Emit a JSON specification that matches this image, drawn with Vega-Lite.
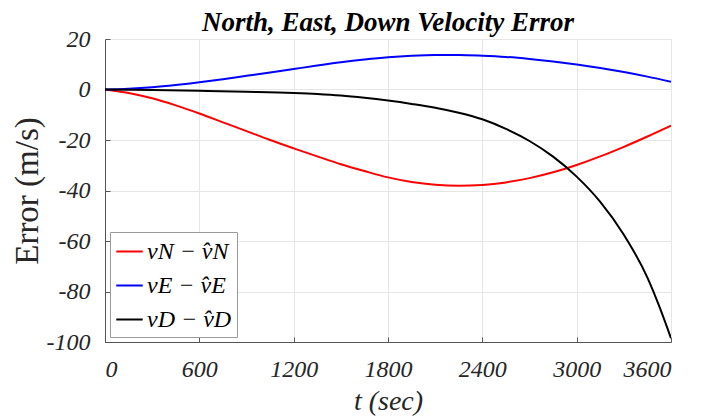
{
  "$schema": "https://vega.github.io/schema/vega-lite/v6.json",
  "width": 566,
  "height": 303,
  "autosize": {"type": "none"},
  "padding": {"left": 105, "top": 39, "right": 31, "bottom": 76},
  "background": "white",
  "title": {
    "text": "North, East, Down Velocity Error",
    "font": "Liberation Serif",
    "fontSize": 27,
    "fontWeight": "bold",
    "fontStyle": "italic",
    "color": "#000000",
    "anchor": "middle",
    "offset": -10
  },
  "data": {
    "values": [
      {"t": 0, "e": 0, "s": "vN − v̂N"},
      {"t": 150, "e": -1.4, "s": "vN − v̂N"},
      {"t": 300, "e": -3.5, "s": "vN − v̂N"},
      {"t": 450, "e": -6.3, "s": "vN − v̂N"},
      {"t": 600, "e": -9.5, "s": "vN − v̂N"},
      {"t": 750, "e": -13.0, "s": "vN − v̂N"},
      {"t": 900, "e": -16.5, "s": "vN − v̂N"},
      {"t": 1050, "e": -20.0, "s": "vN − v̂N"},
      {"t": 1200, "e": -23.3, "s": "vN − v̂N"},
      {"t": 1350, "e": -26.5, "s": "vN − v̂N"},
      {"t": 1500, "e": -29.6, "s": "vN − v̂N"},
      {"t": 1650, "e": -32.3, "s": "vN − v̂N"},
      {"t": 1800, "e": -34.8, "s": "vN − v̂N"},
      {"t": 1950, "e": -36.6, "s": "vN − v̂N"},
      {"t": 2100, "e": -37.7, "s": "vN − v̂N"},
      {"t": 2250, "e": -38.1, "s": "vN − v̂N"},
      {"t": 2400, "e": -37.8, "s": "vN − v̂N"},
      {"t": 2550, "e": -36.8, "s": "vN − v̂N"},
      {"t": 2700, "e": -35.1, "s": "vN − v̂N"},
      {"t": 2850, "e": -32.8, "s": "vN − v̂N"},
      {"t": 3000, "e": -29.9, "s": "vN − v̂N"},
      {"t": 3150, "e": -26.5, "s": "vN − v̂N"},
      {"t": 3300, "e": -22.7, "s": "vN − v̂N"},
      {"t": 3450, "e": -18.6, "s": "vN − v̂N"},
      {"t": 3600, "e": -14.3, "s": "vN − v̂N"},

      {"t": 0, "e": 0, "s": "vE − v̂E"},
      {"t": 150, "e": 0.3, "s": "vE − v̂E"},
      {"t": 300, "e": 0.9, "s": "vE − v̂E"},
      {"t": 450, "e": 1.8, "s": "vE − v̂E"},
      {"t": 600, "e": 2.9, "s": "vE − v̂E"},
      {"t": 750, "e": 4.1, "s": "vE − v̂E"},
      {"t": 900, "e": 5.4, "s": "vE − v̂E"},
      {"t": 1050, "e": 6.7, "s": "vE − v̂E"},
      {"t": 1200, "e": 8.1, "s": "vE − v̂E"},
      {"t": 1350, "e": 9.5, "s": "vE − v̂E"},
      {"t": 1500, "e": 10.8, "s": "vE − v̂E"},
      {"t": 1650, "e": 11.9, "s": "vE − v̂E"},
      {"t": 1800, "e": 12.8, "s": "vE − v̂E"},
      {"t": 1950, "e": 13.4, "s": "vE − v̂E"},
      {"t": 2100, "e": 13.7, "s": "vE − v̂E"},
      {"t": 2250, "e": 13.7, "s": "vE − v̂E"},
      {"t": 2400, "e": 13.4, "s": "vE − v̂E"},
      {"t": 2550, "e": 12.9, "s": "vE − v̂E"},
      {"t": 2700, "e": 12.1, "s": "vE − v̂E"},
      {"t": 2850, "e": 11.1, "s": "vE − v̂E"},
      {"t": 3000, "e": 9.9, "s": "vE − v̂E"},
      {"t": 3150, "e": 8.5, "s": "vE − v̂E"},
      {"t": 3300, "e": 6.9, "s": "vE − v̂E"},
      {"t": 3450, "e": 5.1, "s": "vE − v̂E"},
      {"t": 3600, "e": 3.1, "s": "vE − v̂E"},

      {"t": 0, "e": 0, "s": "vD − v̂D"},
      {"t": 300, "e": -0.2, "s": "vD − v̂D"},
      {"t": 600, "e": -0.5, "s": "vD − v̂D"},
      {"t": 900, "e": -0.9, "s": "vD − v̂D"},
      {"t": 1200, "e": -1.4, "s": "vD − v̂D"},
      {"t": 1350, "e": -1.8, "s": "vD − v̂D"},
      {"t": 1500, "e": -2.4, "s": "vD − v̂D"},
      {"t": 1650, "e": -3.3, "s": "vD − v̂D"},
      {"t": 1800, "e": -4.4, "s": "vD − v̂D"},
      {"t": 1950, "e": -5.7, "s": "vD − v̂D"},
      {"t": 2100, "e": -7.2, "s": "vD − v̂D"},
      {"t": 2250, "e": -9.2, "s": "vD − v̂D"},
      {"t": 2400, "e": -11.8, "s": "vD − v̂D"},
      {"t": 2550, "e": -15.6, "s": "vD − v̂D"},
      {"t": 2700, "e": -20.4, "s": "vD − v̂D"},
      {"t": 2850, "e": -26.6, "s": "vD − v̂D"},
      {"t": 3000, "e": -34.5, "s": "vD − v̂D"},
      {"t": 3150, "e": -44.5, "s": "vD − v̂D"},
      {"t": 3300, "e": -57.5, "s": "vD − v̂D"},
      {"t": 3450, "e": -74.5, "s": "vD − v̂D"},
      {"t": 3525, "e": -85.8, "s": "vD − v̂D"},
      {"t": 3600, "e": -98.5, "s": "vD − v̂D"}
    ]
  },
  "mark": {"type": "line", "strokeWidth": 2, "interpolate": "monotone", "clip": true},
  "encoding": {
    "x": {
      "field": "t",
      "type": "quantitative",
      "scale": {"domain": [0, 3600], "nice": false},
      "axis": {
        "values": [0, 600, 1200, 1800, 2400, 3000, 3600],
        "labelExpr": "toString(datum.value)",
        "labelPadding": 20,
        "title": "t (sec)",
        "titleFontStyle": "italic",
        "titleFontWeight": "normal",
        "titleFontSize": 28,
        "titlePadding": 6
      }
    },
    "y": {
      "field": "e",
      "type": "quantitative",
      "scale": {"domain": [-100, 20], "nice": false},
      "axis": {
        "values": [-100, -80, -60, -40, -20, 0, 20],
        "labelExpr": "toString(datum.value)",
        "labelPadding": 20,
        "title": "Error (m/s)",
        "titleFontStyle": "normal",
        "titleFontWeight": "normal",
        "titleFontSize": 33,
        "titlePadding": 2
      }
    },
    "color": {
      "field": "s",
      "type": "nominal",
      "scale": {
        "domain": ["vN − v̂N", "vE − v̂E", "vD − v̂D"],
        "range": ["#ff0000", "#0000ff", "#000000"]
      },
      "legend": {
        "title": null,
        "orient": "bottom-left",
        "offset": 5,
        "symbolType": "stroke",
        "symbolSize": 700,
        "symbolStrokeWidth": 2,
        "labelFont": "Liberation Serif",
        "labelFontStyle": "italic",
        "labelFontSize": 24,
        "labelColor": "#000000",
        "labelOffset": 3,
        "rowPadding": 7,
        "padding": 5,
        "strokeColor": "#9a9a9a",
        "fillColor": "#ffffff",
        "cornerRadius": 0
      }
    }
  },
  "config": {
    "view": {"stroke": "#e3e3e3", "strokeWidth": 1},
    "axis": {
      "labelFont": "Liberation Serif",
      "labelFontStyle": "italic",
      "labelFontSize": 24,
      "labelColor": "#262626",
      "titleFont": "Liberation Serif",
      "titleColor": "#262626",
      "domainColor": "#555555",
      "domainWidth": 1,
      "tickColor": "#555555",
      "tickSize": -5,
      "gridColor": "#e6e6e6",
      "gridWidth": 1,
      "grid": true
    }
  }
}
